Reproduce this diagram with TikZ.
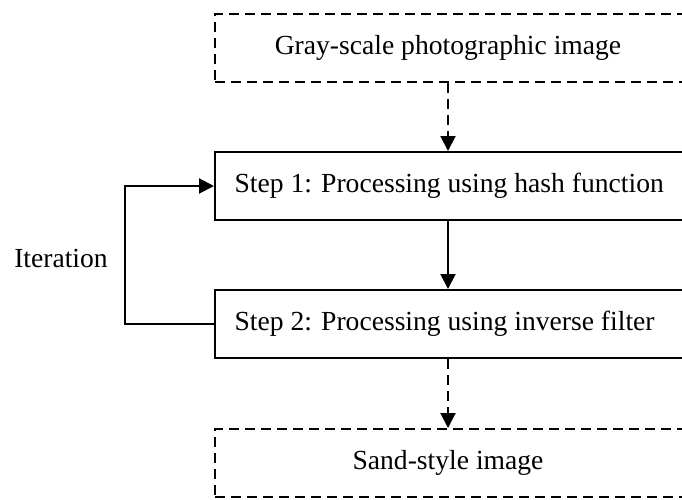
\documentclass[tikz,border=0pt]{standalone}
\usepackage{fontspec}
\setmainfont{Liberation Serif}
\usetikzlibrary{arrows.meta}
\begin{document}
\begin{tikzpicture}[x=1pt,y=-1pt,
  txt/.style={font=\fontsize{27.6}{32}\selectfont},
  box/.style={draw,line width=2pt,minimum width=490pt,minimum height=68pt,inner sep=0pt,anchor=west},
  dbox/.style={box,dash pattern=on 10pt off 6pt},
  conn/.style={line width=2pt,-{Triangle[length=15pt,width=15pt]}},
  dconn/.style={conn,dash pattern=on 10pt off 6pt}]
\useasboundingbox (0,0) rectangle (682,500);
\node[dbox] (in) at (214,48) {};
\node[txt] (intext) at (448,48) {Gray-scale photographic image};
\node[box] (s1) at (214,186) {};
\node[txt,anchor=west] (s1text) at (231,186) {Step 1: Processing using hash function};
\node[box] (s2) at (214,324) {};
\node[txt,anchor=west] (s2text) at (231,324) {Step 2: Processing using inverse filter};
\node[dbox] (out) at (214,463) {};
\node[txt] (outtext) at (448,463) {Sand-style image};
\node[txt] (iter) at (61,258) {Iteration};
\coordinate (c1) at (448,82);
\draw[dconn] (in.south west -| c1) -- (s1.north west -| c1);
\draw[conn] (s1.south west -| c1) -- (s2.north west -| c1);
\draw[dconn] (s2.south west -| c1) -- (out.north west -| c1);
\draw[conn] (s2.west) -- ++(-89,0) |- (s1.west);
\end{tikzpicture}
\end{document}
